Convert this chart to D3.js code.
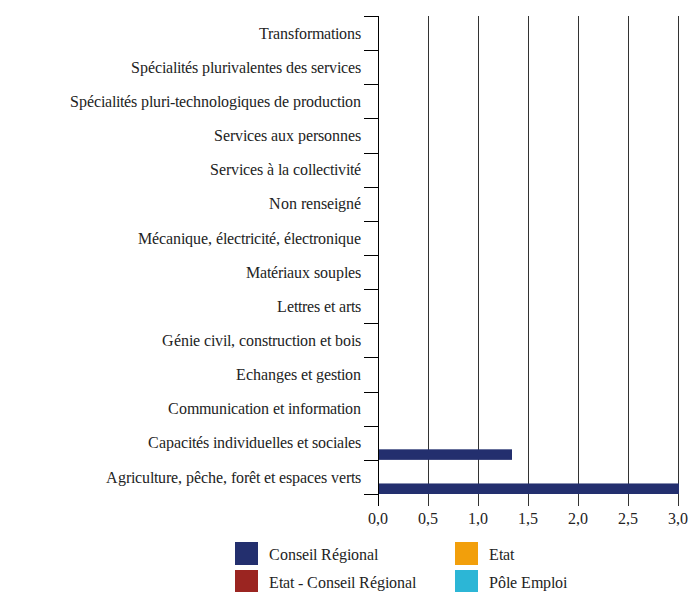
<!DOCTYPE html>
<html>
<head>
<meta charset="utf-8">
<script src="https://cdn.jsdelivr.net/npm/d3@7"></script>
<style>
  @font-face { font-family: "ChartSerif"; src: local("Liberation Serif"), local("LiberationSerif"), local("Tinos"), local("Times New Roman"); }
  body { margin: 0; background: #fff; font-family: "ChartSerif", "Liberation Serif", "Times New Roman", serif; }
  #chart { display: block; }
</style>
</head>
<body>
<svg id="chart" width="692" height="592" font-family="Liberation Serif"></svg>
<script>
// categories, top to bottom as drawn
const categories = [
  "Transformations",
  "Spécialités plurivalentes des services",
  "Spécialités pluri-technologiques de production",
  "Services aux personnes",
  "Services à la collectivité",
  "Non renseigné",
  "Mécanique, électricité, électronique",
  "Matériaux souples",
  "Lettres et arts",
  "Génie civil, construction et bois",
  "Echanges et gestion",
  "Communication et information",
  "Capacités individuelles et sociales",
  "Agriculture, pêche, forêt et espaces verts"
]
const series = ["Conseil Régional", "Etat", "Etat - Conseil Régional", "Pôle Emploi"]
const colors = ["#232f6e", "#f29f0b", "#9b2521", "#2cb6d6"]
// values per series, same order as categories
const conseilRegional = [0, 0, 0, 0, 0, 0, 0, 0, 0, 0, 0, 0, 1.33, 3.0]
const etat = [0, 0, 0, 0, 0, 0, 0, 0, 0, 0, 0, 0, 0, 0]
const etatConseil = [0, 0, 0, 0, 0, 0, 0, 0, 0, 0, 0, 0, 0, 0]
const poleEmploi = [0, 0, 0, 0, 0, 0, 0, 0, 0, 0, 0, 0, 0, 0]
const xTicks = [0, 0.5, 1, 1.5, 2, 2.5, 3]

const seriesValues = [conseilRegional, etat, etatConseil, poleEmploi]

const svg = d3.select("#chart")
const plotLeft = 378, plotRight = 678, plotTop = 16, plotBottom = 494
const FONT = "ChartSerif, 'Liberation Serif', 'Times New Roman', serif"

let x = d3.scaleLinear().domain([0, 3]).range([plotLeft, plotRight])
let y = d3.scaleBand().domain(categories).range([plotTop, plotBottom])
// sub bands inside each category, Conseil Régional sits at the bottom
let y1 = d3.scaleBand().domain(series.slice().reverse()).range([-8, y.bandwidth()])
const fmt = d => d3.format(".1f")(d).replace(".", ",")

//vertical grid lines
svg.append("g")
  .selectAll("line")
  .data(xTicks)
  .join("line")
  .attr("x1", d => x(d) + 0.5)
  .attr("x2", d => x(d) + 0.5)
  .attr("y1", plotTop)
  .attr("y2", 506)
  .attr("stroke", d => d === 0 ? "#000" : "#333")
  .attr("stroke-width", 1)

svg.append("g")
  .selectAll("text")
  .data(xTicks)
  .join("text")
  .attr("x", d => x(d))
  .attr("y", 524)
  .attr("text-anchor", "middle")
  .attr("font-size", 16)
  .attr("fill", "#222")
  .text(fmt)

//category tick marks at band edges
let edges = categories.map(c => y(c)).concat([plotBottom])
svg.append("g")
  .selectAll("line")
  .data(edges)
  .join("line")
  .attr("x1", 364)
  .attr("x2", plotLeft)
  .attr("y1", d => Math.round(d) + 0.5)
  .attr("y2", d => Math.round(d) + 0.5)
  .attr("stroke", "#000")

svg.append("g")
  .selectAll("text")
  .data(categories)
  .join("text")
  .attr("x", 361)
  .attr("y", d => y(d) + y.bandwidth() / 2)
  .attr("dy", "0.35em")
  .attr("text-anchor", "end")
  .attr("font-size", 16)
  .attr("fill", "#222")
  .text(d => d)

//bars
series.forEach((s, si) => {
  svg.append("g")
    .selectAll("rect")
    .data(categories.map((c, i) => ({c, v: seriesValues[si][i]})).filter(d => d.v > 0))
    .join("rect")
    .attr("x", x(0) + 1)
    .attr("y", d => y(d.c) + y1(s))
    .attr("width", d => x(d.v) - x(0))
    .attr("height", y1.bandwidth())
    .attr("fill", colors[si])
})

//legend
const legendPos = [[235, 542], [455, 542], [235, 570], [455, 570]]
const lg = svg.append("g")
  .selectAll("g")
  .data(series)
  .join("g")
  .attr("transform", (d, i) => `translate(${legendPos[i][0]},${legendPos[i][1]})`)
lg.append("rect")
  .attr("width", 23)
  .attr("height", 23)
  .attr("fill", (d, i) => colors[i])
lg.append("text")
  .attr("x", 34)
  .attr("y", 12)
  .attr("dy", "0.35em")
  .attr("font-size", 16)
  .attr("fill", "#222")
  .text(d => d)

svg.selectAll("text").attr("font-family", FONT)
</script>
</body>
</html>
